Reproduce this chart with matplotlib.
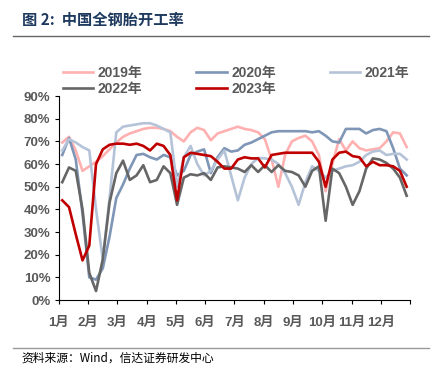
import numpy as np
import matplotlib.pyplot as plt

plt.rcParams['font.family'] = ['Liberation Sans', 'Noto Sans CJK SC', 'DejaVu Sans']

# weekly tyre plant operating rate (%), weeks 1..52
weeks = np.arange(1, 53)
y2019 = [69.5, 72, 66, 57, 59, 61, 63.5, 66.5, 69.5, 72, 73.5, 74.5, 75.5, 76, 76, 75.5,
         74.5, 72, 70, 74, 76, 75, 70.5, 73.5, 74.5, 75.5, 76.5, 75.5, 75, 74, 71, 62,
         50, 64, 70, 71.5, 72.5, 70, 64, 48, 60, 71, 66, 70, 67, 66, 66.5, 67, 70, 74,
         73.5, 67.5]
y2020 = [64, 71.5, 62, 38, 10, 9, 14, 28, 45, 51, 58, 64, 64.5, 63, 62, 64,
         63, 55, 57, 64, 65.5, 66.5, 56, 63, 67, 65.5, 66, 68.5, 69.5, 71, 72.5, 74,
         74.5, 74.5, 74.5, 74.5, 74.5, 74, 74.5, 72.5, 70, 69.5, 75.5, 75.5, 75.5, 73.5,
         75, 75.5, 74.5, 67, 58, 55]
y2021 = [66, 71, 69.5, 67.5, 66, 40, 18, 45, 74, 76.5, 77, 77.5, 78, 78, 77, 75.5,
         74, 50, 63, 68, 60, 55, 57, 62, 66, 55, 44, 54, 60, 62.7, 62.5, 62, 60, 56,
         50, 42, 52, 59, 57, 54, 57, 58, 59, 59.5, 61, 64, 65.5, 66, 64, 64.5, 64.5, 62]
y2022 = [52, 58.5, 57, 40, 12, 4, 18, 43, 56, 61.5, 53, 55, 59.5, 52, 53, 59,
         56, 42, 54, 55.5, 55, 56, 53, 58.5, 59, 58.5, 58, 56.5, 59.5, 56.5, 59.5, 56.5,
         59.5, 57, 56.5, 55, 50, 57, 59, 35, 58, 56, 50, 42, 48, 58, 62.5, 62, 60.5,
         58, 54, 46]
y2023 = [44, 41, 29, 17.5, 24, 60, 66.5, 68.5, 69, 69, 68.5, 69, 68, 66, 69, 68,
         64, 44, 63, 65, 64.5, 64, 63.5, 61, 58, 58, 62, 63, 62.5, 62.5, 58.5, 64,
         64.5, 65, 65, 65, 65, 65, 61, 50, 62, 65, 65.5, 63.5, 63, 59, 61, 59.5, 59.5,
         59, 57, 50]

series = [('2019年', y2019, '#FFB0B0'),
          ('2020年', y2020, '#7F96B6'),
          ('2021年', y2021, '#B5C3D8'),
          ('2022年', y2022, '#666666'),
          ('2023年', y2023, '#C00000')]
months = ['1月', '2月', '3月', '4月', '5月', '6月', '7月', '8月', '9月', '10月', '11月', '12月', '']

x = (weeks - 0.5) / 52 * 12

fig = plt.figure(figsize=(4.33, 3.70), dpi=100)
ax = fig.add_axes([0.136, 0.189, 0.811, 0.5514])
lines = {}
for name, vals, col in series:
    lines[name], = ax.plot(x, vals, color=col, lw=1.9, label=name, solid_joinstyle='round')

ax.set_xlim(0, 12)
ax.set_ylim(0, 90)
ax.set_xticks(range(13))
ax.set_xticklabels(months)
ax.set_yticks(range(0, 91, 10))
ax.set_yticklabels([f'{v}%' for v in range(0, 91, 10)])
for s in ['top', 'right']:
    ax.spines[s].set_visible(False)
for s in ['left', 'bottom']:
    ax.spines[s].set_color('black')
    ax.spines[s].set_linewidth(0.8)
ax.tick_params(axis='both', direction='out', length=3, width=0.8, colors='black',
               labelcolor='#595959', labelsize=9.5)
ax.tick_params(axis='y', pad=3)
ax.tick_params(axis='x', pad=9)
for t in ax.get_xticklabels() + ax.get_yticklabels():
    t.set_fontweight('bold')

# legend filled column by column, so reorder to get rows 2019/2020/2021, 2022/2023
order = ['2019年', '2022年', '2020年', '2023年', '2021年']
leg = ax.legend([lines[n] for n in order], order, loc='lower left',
                bbox_to_anchor=(-0.005, 0.975), ncol=3, frameon=False,
                fontsize=10, handlelength=2.2, columnspacing=3.9, handletextpad=0.3,
                labelspacing=0.1, borderaxespad=0)
for t in leg.get_texts():
    t.set_color('#595959')
    t.set_fontweight('bold')

fig.text(0.05, 0.947, '图 2:  中国全钢胎开工率', fontsize=11, fontweight='bold',
         color='#1F3A5F', va='center', family=['Noto Sans CJK SC', 'DejaVu Sans'])
fig.add_artist(plt.Line2D([0.03, 0.99], [0.903, 0.903], color='#666666', lw=1.0))
fig.add_artist(plt.Line2D([0.03, 0.99], [0.06, 0.06], color='#999999', lw=1.0))
fig.text(0.05, 0.032, '资料来源：Wind，信达证券研发中心', fontsize=8.5, style='italic',
         color='black', va='center', family=['Noto Sans CJK SC', 'DejaVu Sans'])

fig.savefig('out.png', dpi=100)
